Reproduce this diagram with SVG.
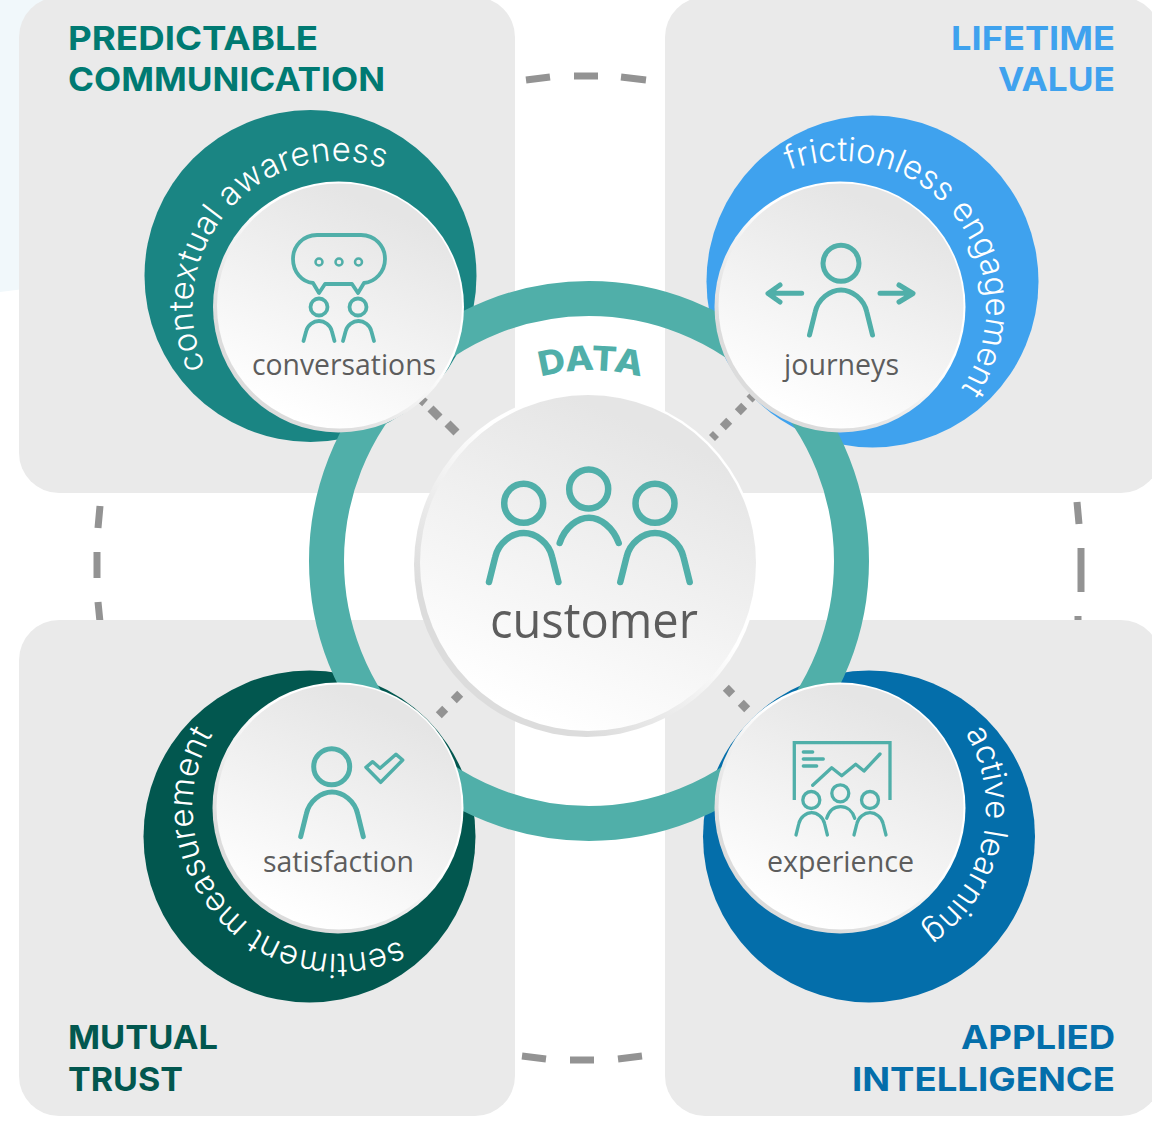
<svg xmlns="http://www.w3.org/2000/svg" xmlns:xlink="http://www.w3.org/1999/xlink" width="1152" height="1124" viewBox="0 0 1152 1124">
<style>
.panel{fill:#eaeaea}
.title{font-family:"Inter","Liberation Sans",sans-serif;font-weight:700;font-size:33px}
.curve{font-family:"Inter","Lato",sans-serif;font-weight:300;font-size:33px;fill:#fff}
.label{font-family:"Open Sans","Liberation Sans",sans-serif;font-size:29px;fill:#5d5d5d;text-anchor:start}
.ic{fill:none;stroke:#50afa9;stroke-linecap:round;stroke-linejoin:round}
.dash{fill:none;stroke:#939393;stroke-width:7}
.dia{fill:none;stroke:#939393;stroke-width:8.5}
.ns{vector-effect:non-scaling-stroke}
</style>
<defs>
<linearGradient id="face" x1="0.72" y1="0" x2="0.28" y2="1"><stop offset="0.1" stop-color="#e5e5e5"/><stop offset="0.95" stop-color="#ffffff"/></linearGradient>
<linearGradient id="rim" x1="0.85" y1="0.1" x2="0.15" y2="0.9"><stop offset="0.4" stop-color="#ffffff"/><stop offset="0.85" stop-color="#dcdcdc"/></linearGradient>
<path id="body" class="ns" d="M-1 1L-.82 .49C-.73 .2-.35 0 0 0C.35 0 .73 .2 .82 .49L1 1"/>
<path id="arc-tl" d="M205.500 367.300A146 146 0 0 1 386.100 168.900"/>
<path id="arc-tr" d="M788.900 170.200A146 146 0 0 1 959.600 390.800"/>
<path id="arc-br" d="M965.100 732.800A146 146 0 0 1 919.500 930.500"/>
<path id="arc-bl" d="M400.200 940.300A146 146 0 0 1 213.400 732.800"/>
<path id="arc-data" d="M541 377A190 190 0 0 1 641 377"/>
</defs>
<rect width="1152" height="1124" fill="#fff"/>
<path d="M0 0H60V285Q30 288 0 292Z" fill="#f1f8fb"/>
<g id="outer-dashes">
<path class="dash" d="M526 80L550 77M574 76H598M621 77L646 80M100 506L98 528M97 552V578M98 602L100 622M1077 502L1079 524M1081 548V592M1078 616V622M522 1056L546 1059M570 1060H594M618 1059L642 1056"/>
</g>
<g id="panel-tl"><rect class="panel" x="19" y="-3" width="496" height="496" rx="40"/></g>
<g id="panel-tr"><rect class="panel" x="665" y="-3" width="496" height="496" rx="40"/></g>
<g id="panel-bl"><rect class="panel" x="19" y="620" width="496" height="496" rx="40"/></g>
<g id="panel-br"><rect class="panel" x="665" y="620" width="496" height="496" rx="40"/></g>
<g id="titles">
<text class="title" fill="#007a72" x="68" y="50" textLength="250" lengthAdjust="spacingAndGlyphs">PREDICTABLE</text>
<text class="title" fill="#007a72" x="68" y="91" textLength="317" lengthAdjust="spacingAndGlyphs">COMMUNICATION</text>
<text class="title" fill="#3fa2ee" x="951" y="50" textLength="164" lengthAdjust="spacingAndGlyphs">LIFETIME</text>
<text class="title" fill="#3fa2ee" x="998" y="91" textLength="117" lengthAdjust="spacingAndGlyphs">VALUE</text>
<text class="title" fill="#02574f" x="68" y="1049" textLength="150" lengthAdjust="spacingAndGlyphs">MUTUAL</text>
<text class="title" fill="#02574f" x="68" y="1091" textLength="115" lengthAdjust="spacingAndGlyphs">TRUST</text>
<text class="title" fill="#046eaa" x="961" y="1049" textLength="154" lengthAdjust="spacingAndGlyphs">APPLIED</text>
<text class="title" fill="#046eaa" x="852" y="1091" textLength="263" lengthAdjust="spacingAndGlyphs">INTELLIGENCE</text>
</g>
<g id="outer-circles">
<circle cx="310.500" cy="276" r="166" fill="#1a8583"/>
<circle cx="872.500" cy="281.500" r="166" fill="#3fa2ee"/>
<circle cx="309.500" cy="836.500" r="166" fill="#02574f"/>
<circle cx="869" cy="836.500" r="166" fill="#046eaa"/>
</g>
<g id="connectors">
<circle cx="589" cy="561" r="262.500" fill="none" stroke="#50afa9" stroke-width="35"/>
<path class="dia" d="M430.500 408.500L439.500 417.500M447.500 423.500L456.500 432.500M420 398.500L425 403M737.800 412.200L744.200 405.800M722.800 427.200L729.200 420.800M712 438L716 434M749.500 399.500L754 395M453.800 700.200L460.200 693.800M438.800 715.200L445.200 708.800M725.800 687.800L732.200 694.200M740.800 702.800L747.200 709.200"/>
</g>
<text id="data-label" font-family="Inter,'Liberation Sans',sans-serif" font-weight="800" font-size="34" fill="#50afa9"><textPath href="#arc-data" xlink:href="#arc-data" textLength="101" lengthAdjust="spacingAndGlyphs">DATA</textPath></text>

<g id="node-conversations">
<circle cx="338.500" cy="307" r="125.500" fill="url(#rim)"/>
<circle cx="339.500" cy="306" r="122.500" fill="url(#face)"/>
<text class="curve"><textPath href="#arc-tl" xlink:href="#arc-tl" textLength="338" lengthAdjust="spacing">contextual awareness</textPath></text>
<g class="ic" stroke-width="3.800">
<path d="M317 235H361C375 235 385 246 385 259C385 272 375 282 364 283L358 293L352 284H325L319 293L313 283C302 282 293 272 293 259C293 246 303 235 317 235Z"/>
<circle cx="319" cy="262" r="3.500" stroke-width="2.500"/><circle cx="339" cy="262" r="3.500" stroke-width="2.500"/><circle cx="358.500" cy="262" r="3.500" stroke-width="2.500"/>
<circle cx="319" cy="307" r="8.500"/><circle cx="358" cy="307" r="8.500"/>
<use href="#body" xlink:href="#body" transform="translate(319,321) scale(15.500,20)"/>
<use href="#body" xlink:href="#body" transform="translate(358.500,321) scale(15.500,20)"/>
</g>
<text class="label" x="252" y="375" textLength="184" lengthAdjust="spacingAndGlyphs">conversations</text>
</g>

<g id="node-journeys">
<circle cx="840" cy="307" r="125.500" fill="url(#rim)"/>
<circle cx="841" cy="306" r="122.500" fill="url(#face)"/>
<text class="curve"><textPath href="#arc-tr" xlink:href="#arc-tr" textLength="368" lengthAdjust="spacing">frictionless engagement</textPath></text>
<g class="ic" stroke-width="5">
<circle cx="841" cy="263.300" r="18"/>
<use href="#body" xlink:href="#body" transform="translate(841,290) scale(31.500,45)"/>
<path d="M801.700 293.300H770M780 285L768 293.500L780 302M880 293.300H911M899 285L913 293.500L899 302"/>
</g>
<text class="label" x="784" y="375" textLength="115" lengthAdjust="spacingAndGlyphs">journeys</text>
</g>

<g id="node-satisfaction">
<circle cx="338" cy="808" r="125.500" fill="url(#rim)"/>
<circle cx="339" cy="807" r="122.500" fill="url(#face)"/>
<text class="curve"><textPath href="#arc-bl" xlink:href="#arc-bl" textLength="370" lengthAdjust="spacing">sentiment measurement</textPath></text>
<g class="ic" stroke-width="5">
<circle cx="331.700" cy="766.700" r="18"/>
<use href="#body" xlink:href="#body" transform="translate(332,792) scale(31.300,44.700)"/>
<path stroke-width="3.500" d="M366 767.300L372.700 761.700L380 768.300L396 754.300L402.700 760L380.700 782.300Z"/>
</g>
<text class="label" x="263" y="872" textLength="151" lengthAdjust="spacingAndGlyphs">satisfaction</text>
</g>

<g id="node-experience">
<circle cx="840" cy="808" r="125.500" fill="url(#rim)"/>
<circle cx="841" cy="807" r="122.500" fill="url(#face)"/>
<text class="curve"><textPath href="#arc-br" xlink:href="#arc-br" textLength="222" lengthAdjust="spacing">active learning</textPath></text>
<g class="ic" stroke-width="3.300">
<path stroke-linecap="butt" stroke-linejoin="miter" d="M794.300 800V742.700H890V800"/>
<path d="M803.300 752H812.700M803.300 759H823.300M803.300 766H816.700M812.700 785.300L831.700 767.700L841.700 775.700L855.700 764.300L864 771L880 754"/>
<circle cx="811.300" cy="800" r="8.500"/><circle cx="840.300" cy="793.300" r="8.500"/><circle cx="870" cy="800" r="8.500"/>
<use href="#body" xlink:href="#body" transform="translate(811.700,812.700) scale(15.700,22.300)"/>
<use href="#body" xlink:href="#body" transform="translate(870,812.700) scale(16,22.300)"/>
<path d="M826.700 818.300C829 811 834 806.700 840.700 806.700C847 806.700 852.500 811 854.700 818.300"/>
</g>
<text class="label" x="767" y="872" textLength="147" lengthAdjust="spacingAndGlyphs">experience</text>
</g>

<g id="node-customer">
<circle cx="586.500" cy="564.500" r="172.500" fill="url(#rim)"/>
<circle cx="588" cy="563" r="168" fill="url(#face)"/>
<g class="ic" stroke-width="6.500">
<circle cx="523.700" cy="503.300" r="19.500"/><circle cx="588.700" cy="489" r="19.500"/><circle cx="655" cy="503.300" r="19.500"/>
<use href="#body" xlink:href="#body" transform="translate(523.700,533) scale(34.700,49)"/>
<use href="#body" xlink:href="#body" transform="translate(655,533) scale(34.700,49)"/>
<path d="M559.700 543C565 527 578 517.700 589 517.700C600 517.700 613 527 618.700 543"/>
</g>
<text class="label" x="490" y="638" style="font-size:50px" textLength="208" lengthAdjust="spacingAndGlyphs">customer</text>
</g>
</svg>
